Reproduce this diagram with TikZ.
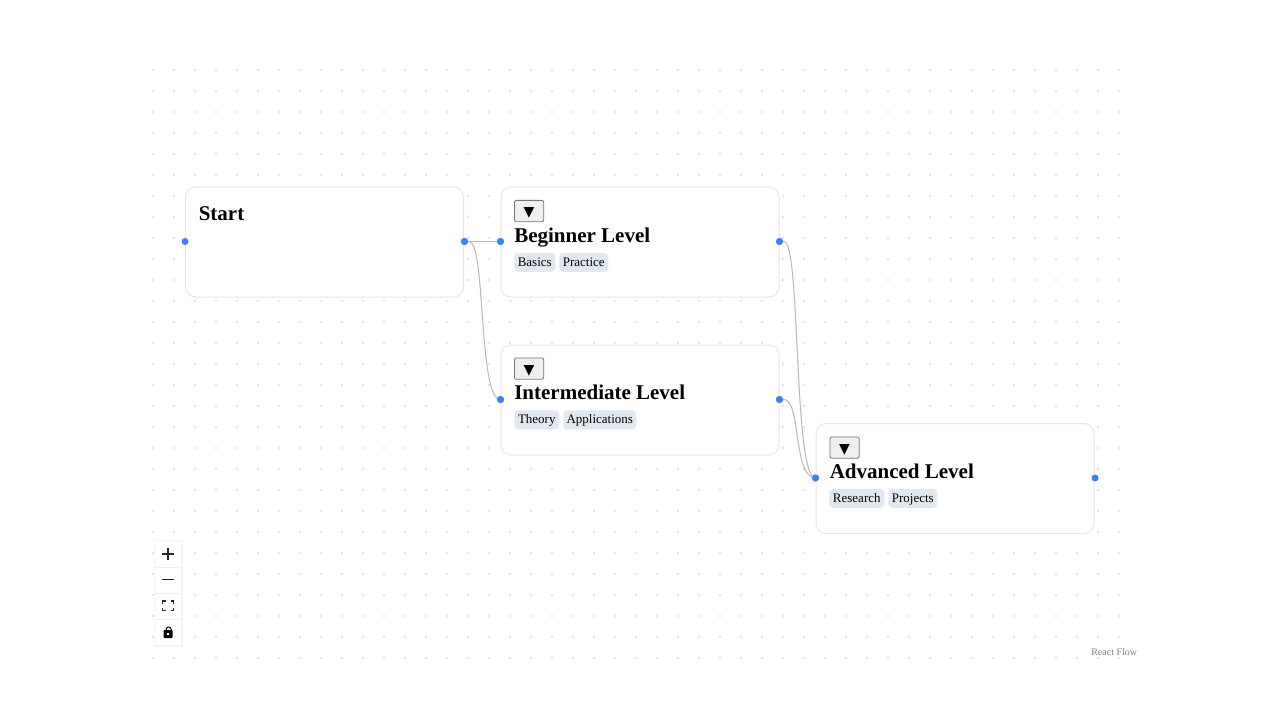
\documentclass[tikz,border=0pt]{standalone}
\usepackage{fontspec}
\setmainfont{Liberation Serif}
\newfontfamily\symfont{DejaVu Sans}
\usetikzlibrary{calc}
\definecolor{edgegray}{HTML}{B8B8BD}
\definecolor{cardline}{HTML}{E6E6E6}
\definecolor{handleblue}{HTML}{3B82F6}
\definecolor{tagbg}{HTML}{E2E8F0}
\definecolor{btnbg}{HTML}{EFEFEF}
\definecolor{btnline}{HTML}{767676}
\definecolor{dotgray}{HTML}{E4E4E4}
\definecolor{panelline}{HTML}{EEEEEE}
\tikzset{
 x=0.75pt,y=-0.75pt,
 card/.style={draw=cardline,line width=0.75pt,fill=white,rounded corners=7.5pt,minimum width=208.5pt,minimum height=82.5pt,inner sep=0pt,anchor=north west},
 handle/.style={circle,fill=handleblue,minimum size=5.25pt,inner sep=0pt},
 title/.style={font=\fontsize{15.75pt}{18pt}\selectfont\bfseries,inner sep=0pt,anchor=base west},
 tag/.style={fill=tagbg,rounded corners=3pt,font=\fontsize{9.75pt}{11pt}\selectfont,inner sep=0pt,minimum height=14.25pt,text height=8pt,text depth=1.7pt,anchor=north west},
 btn/.style={draw=btnline,line width=0.6pt,fill=btnbg,rounded corners=1.5pt,minimum width=22pt,minimum height=16pt,inner sep=0pt,text height=8.2pt,text depth=0pt,anchor=north west,font=\symfont\fontsize{10.5pt}{12pt}\selectfont},
 edge/.style={draw=edgegray,line width=0.75pt},
 ctrl/.style={fill=white,minimum width=19.5pt,minimum height=19.5pt,inner sep=0pt,anchor=north west},
}
\begin{document}
\begin{tikzpicture}
\useasboundingbox (0,0) rectangle (1280,720);
\fill[white] (0,0) rectangle (1280,720);
% dot grid
\foreach \i in {0,...,46}{\foreach \j in {0,...,28}{
 \fill[dotgray] ({153+21*\i-0.8},{70+21*\j-0.8}) rectangle ({153+21*\i+0.8},{70+21*\j+0.8});
}}
% cards
\node[card] (start) at (185,186.5) {};
\node[card] (beg) at (500.5,186.5) {};
\node[card] (mid) at (500.5,344.5) {};
\node[card] (adv) at (815.5,423) {};
% handles
\node[handle] (hsR) at (464.5,241.5) {};
\node[handle] (hsL) at (185,241.5) {};
\node[handle] (hbL) at (500.5,241.5) {};
\node[handle] (hbR) at (779.5,241.5) {};
\node[handle] (hmL) at (500.5,399.5) {};
\node[handle] (hmR) at (779.5,399.5) {};
\node[handle] (haL) at (815.5,478) {};
\node[handle] (haR) at (1095,478) {};
% edges
\draw[edge] (hsR.center) -- (hbL.center);
\draw[edge] (hsR.center) -- (469,241.5) .. controls (486,241.5) and (478,399.5) .. (hmL.center);
\draw[edge] (hbR.center) -- (784,241.5) .. controls (801,241.5) and (793,478) .. (haL.center);
\draw[edge] (hmR.center) -- (784,399.5) .. controls (801,399.5) and (793,478) .. (haL.center);
\node[handle] at (hsR) {};
\node[handle] at (hbL) {};
\node[handle] at (hbR) {};
\node[handle] at (hmL) {};
\node[handle] at (hmR) {};
\node[handle] at (haL) {};
% titles
\node[title] (tstart) at (198.5,220) {Start};
\node[title] (tbeg) at (514,242.5) {Beginner Level};
\node[title] (tmid) at (514,399.5) {Intermediate Level};
\node[title] (tadv) at (829.5,478.5) {Advanced Level};
% buttons
\node[btn] (bb) at (514,200) {▼};
\node[btn] (bm) at (514,357.5) {▼};
\node[btn] (ba) at (829.5,436.5) {▼};
% tags
\node[tag,minimum width=30.75pt] (t1) at (514,252.5) {Basics};
\node[tag,minimum width=36.75pt] (t2) at (559,252.5) {Practice};
\node[tag,minimum width=33.75pt] (t3) at (514,410) {Theory};
\node[tag,minimum width=54.75pt] (t4) at (563,410) {Applications};
\node[tag,minimum width=41.25pt] (t5) at (829,488.5) {Research};
\node[tag,minimum width=36.75pt] (t6) at (888,488.5) {Projects};
% controls panel
\fill[black!4] (153.5,539.5) rectangle (182.5,646.5);
\node[ctrl] (c1) at (155,541) {};
\node[ctrl] (c2) at (155,567) {};
\node[ctrl] (c3) at (155,593) {};
\node[ctrl] (c4) at (155,619) {};
\draw[panelline,line width=0.75pt] (c1.south west) -- (c1.south east);
\draw[panelline,line width=0.75pt] (c2.south west) -- (c2.south east);
\draw[panelline,line width=0.75pt] (c3.south west) -- (c3.south east);
% icons
\draw[black!85,line width=1.1pt] (162,554) -- (174,554) (168,548) -- (168,560);
\draw[black!85,line width=0.9pt] (162,579.5) -- (174,579.5);
\draw[black!85,line width=1.1pt,line cap=butt]
 (162.5,604) -- (162.5,601) -- (165.5,601)
 (170.5,601) -- (173.5,601) -- (173.5,604)
 (173.5,607.5) -- (173.5,610.5) -- (170.5,610.5)
 (165.5,610.5) -- (162.5,610.5) -- (162.5,607.5);
\fill[black,rounded corners=0.6pt] (163.5,630) rectangle (172.5,638);
\draw[black,line width=0.7pt] (166,630) .. controls (166,626.5) and (170.5,625.5) .. (171.5,630);
\fill[white] (167,633.2) rectangle (169,635.2);
% attribution
\node[inner sep=0pt,anchor=base west,text=black!50,font=\fontsize{7.5pt}{9pt}\selectfont] (rf) at (1091,655.2) {React Flow};
\end{tikzpicture}
\end{document}
